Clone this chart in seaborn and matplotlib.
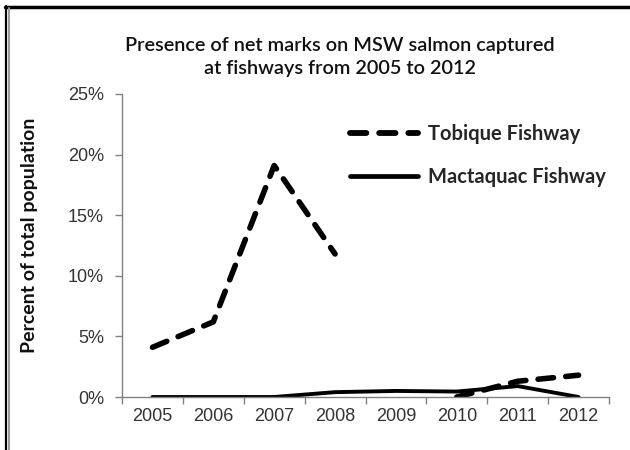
import numpy as np
import pandas as pd
import matplotlib
matplotlib.use("Agg")
import matplotlib.pyplot as plt
from matplotlib.lines import Line2D
from matplotlib.ticker import FuncFormatter, FixedLocator
import seaborn as sns

years = ["2005", "2006", "2007", "2008", "2009", "2010", "2011", "2012"]
tobique = [4.1, 6.2, 19.1, 11.8, np.nan, 0.0, 1.3, 1.8]
mactaquac = [0.0, 0.0, 0.0, 0.4, 0.5, 0.45, 0.9, 0.0]
series_names = ["Tobique Fishway", "Mactaquac Fishway"]
title = "Presence of net marks on MSW salmon captured\nat fishways from 2005 to 2012"
ylabel = "Percent of total population"

rows = []
for name, vals in zip(series_names, [tobique, mactaquac]):
    seg = 0
    for i, v in enumerate(vals):
        if np.isnan(v):
            seg += 1
            continue
        rows.append({"pos": i, "year": years[i], "value": v,
                     "series": name, "seg": f"{name}-{seg}"})
df = pd.DataFrame(rows)

DASH = (2.8, 2.2)

sns.set_theme(style="white")
plt.rcParams["font.family"] = ["Liberation Sans", "DejaVu Sans"]

fig = plt.figure(figsize=(6.3, 4.5), dpi=100)
ax = fig.add_axes([122/630, 1-397/450, (609-122)/630, (397-94)/450])

sns.lineplot(data=df, x="pos", y="value", style="series", units="seg",
             estimator=None, color="black", ax=ax,
             dashes={"Tobique Fishway": DASH, "Mactaquac Fishway": ""},
             style_order=series_names, legend=False, sort=False)
for ln in ax.get_lines():
    if ln.get_linestyle() == "-":
        ln.set_linewidth(2.8)
    else:
        ln.set_linewidth(4.0)
        ln.set_dash_capstyle("round")

ax.set_xlim(-0.5, len(years) - 0.5)
ax.set_ylim(0, 25)
ax.set_xticks(range(len(years)))
ax.set_xticklabels(years)
ax.xaxis.set_minor_locator(FixedLocator(np.arange(-0.5, len(years), 1.0)))
ax.tick_params(axis="x", which="major", length=0, pad=8, labelsize=13, labelcolor="#333333")
ax.tick_params(axis="x", which="minor", length=5, width=1, color="#808080", direction="out", bottom=True)
ax.set_yticks([0, 5, 10, 15, 20, 25])
ax.yaxis.set_major_formatter(FuncFormatter(lambda v, p: f"{int(v)}%"))
ax.tick_params(axis="y", length=5, width=1, color="#808080", direction="out", left=True,
               labelsize=13, labelcolor="#333333", pad=8)
for s in ["top", "right"]:
    ax.spines[s].set_visible(False)
for s in ["left", "bottom"]:
    ax.spines[s].set_color("#808080")
    ax.spines[s].set_linewidth(1)
ax.set_xlabel("")
ax.set_ylabel("")

handles = [Line2D([], [], color="black", lw=4.2, linestyle=(0, DASH), dash_capstyle="round"),
           Line2D([], [], color="black", lw=3.4)]
leg = ax.legend(handles, series_names, loc="upper left",
                bbox_to_anchor=((350-122)/487, (397-124)/303), frameon=False,
                borderpad=0, borderaxespad=0,
                handlelength=3.4, handletextpad=0.45, labelspacing=1.12,
                prop={"family": ["Lato", "DejaVu Sans"], "weight": "bold", "size": 14.5})

fig.text(340/630, 1-57/450, title, ha="center", va="center", fontsize=14.3,
         family=["Lato", "DejaVu Sans"], weight="semibold", linespacing=1.4, color="#111111")
fig.text(30/630, 1-235/450, ylabel, rotation=90, ha="center", va="center", fontsize=14,
         family=["Lato", "DejaVu Sans"], weight="bold", color="#111111")

fig.add_artist(Line2D([5/630, 1], [1-7/450, 1-7/450], color="black", lw=2.5, transform=fig.transFigure))
fig.add_artist(Line2D([6/630, 6/630], [0, 1-6/450], color="black", lw=1.6, transform=fig.transFigure))
fig.add_artist(Line2D([8.5/630, 8.5/630], [0, 1-8/450], color="#9a9a9a", lw=1.4, transform=fig.transFigure))

fig.savefig("out.png", dpi=100)
